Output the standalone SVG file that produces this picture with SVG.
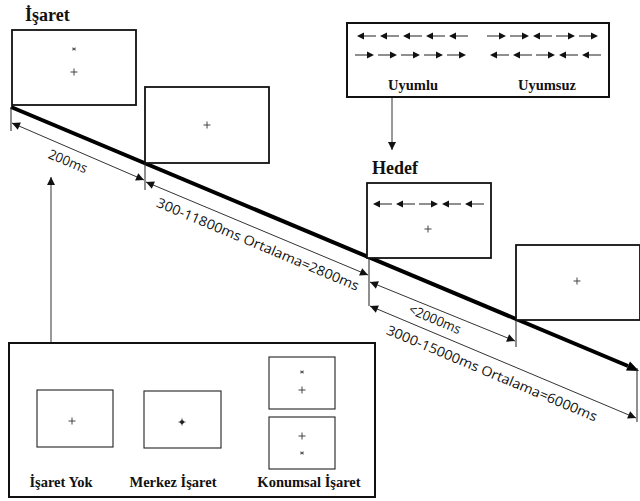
<svg xmlns="http://www.w3.org/2000/svg" xmlns:xlink="http://www.w3.org/1999/xlink" width="640" height="501" viewBox="0 0 640 501">
<style>
.scr{fill:#fff;stroke:#111;stroke-width:1.8}
.box{fill:#fff;stroke:#111;stroke-width:2}
.sm{fill:#fff;stroke:#222;stroke-width:1.1}
.tt{font-family:"Liberation Serif",serif;font-weight:bold;fill:#111}
.dl{font-family:"Open Sans","Liberation Sans",sans-serif;font-size:13.5px;fill:#111}
.pl{stroke:#444;stroke-width:1;fill:none}
.st{stroke:#555;stroke-width:1;fill:none}
.thin{stroke:#333;stroke-width:1;fill:none}
.tick{stroke:#333;stroke-width:1.1}
</style>
<defs>
<marker id="ah" viewBox="0 0 10 10" refX="10" refY="5" markerWidth="10" markerHeight="8" markerUnits="userSpaceOnUse" orient="auto-start-reverse">
<path d="M0,0 L10,5 L0,10 z" fill="#111"/>
</marker>
<g id="la">
<line x1="5" y1="0" x2="19" y2="0" stroke="#333" stroke-width="1.1"/>
<path d="M0,0 L7,-3.5 L7,3.5 z" fill="#111"/>
</g>
<g id="ra">
<line x1="0" y1="0" x2="14" y2="0" stroke="#333" stroke-width="1.1"/>
<path d="M19,0 L12,-3.5 L12,3.5 z" fill="#111"/>
</g>
<path id="plus" d="M-3.5,0 H3.5 M0,-3.5 V3.5"/>
<path id="star" d="M-2,0 H2 M-1.2,-1.5 L1.2,1.5 M1.2,-1.5 L-1.2,1.5"/>
</defs>

<g id="connectors">
<line x1="11" y1="107" x2="628" y2="366" stroke="#000" stroke-width="4"/>
<path d="M639,371 L626,370.5 L630,361.5 z" fill="#000"/>
<line class="tick" x1="11" y1="107" x2="11" y2="131"/>
<line class="tick" x1="145" y1="163" x2="145" y2="190"/>
<line class="tick" x1="369" y1="258" x2="369" y2="306"/>
<line class="tick" x1="516" y1="320" x2="516" y2="347"/>
<line class="tick" x1="637" y1="368" x2="637" y2="422"/>
<line class="thin" x1="12" y1="123" x2="144" y2="180" marker-start="url(#ah)" marker-end="url(#ah)"/>
<line class="thin" x1="146" y1="182" x2="368" y2="275" marker-start="url(#ah)" marker-end="url(#ah)"/>
<line class="thin" x1="370" y1="282" x2="515" y2="341" marker-start="url(#ah)" marker-end="url(#ah)"/>
<line class="thin" x1="370" y1="306" x2="636" y2="418" marker-start="url(#ah)" marker-end="url(#ah)"/>
<line class="thin" x1="392" y1="97" x2="392" y2="150" marker-end="url(#ah)"/>
<line class="thin" x1="51" y1="343" x2="51" y2="177" marker-end="url(#ah)"/>
</g>

<g id="labels">
<text class="dl" transform="translate(68,161) rotate(22.8)" text-anchor="middle" dominant-baseline="central" textLength="41" lengthAdjust="spacingAndGlyphs">200ms</text>
<text class="dl" transform="translate(258,244) rotate(22.8)" text-anchor="middle" dominant-baseline="central" textLength="218" lengthAdjust="spacingAndGlyphs">300-11800ms Ortalama=2800ms</text>
<text class="dl" transform="translate(435,319) rotate(22.8)" text-anchor="middle" dominant-baseline="central" textLength="55" lengthAdjust="spacingAndGlyphs">&lt;2000ms</text>
<text class="dl" transform="translate(492,373) rotate(22.8)" text-anchor="middle" dominant-baseline="central" textLength="227" lengthAdjust="spacingAndGlyphs">3000-15000ms Ortalama=6000ms</text>
</g>

<g id="isaret">
<text class="tt" x="25" y="21" font-size="18">İşaret</text>
<rect class="scr" x="12" y="30" width="124" height="75"/>
<use xlink:href="#star" class="st" x="74" y="49"/>
<use xlink:href="#plus" class="pl" x="74" y="72"/>
</g>

<g id="fixation1">
<rect class="scr" x="145" y="87" width="124" height="76"/>
<use xlink:href="#plus" class="pl" x="207" y="125"/>
</g>

<g id="flankers">
<rect class="box" x="347" y="23" width="262" height="74"/>
<use xlink:href="#la" x="357" y="36"/><use xlink:href="#la" x="380" y="36"/><use xlink:href="#la" x="403" y="36"/><use xlink:href="#la" x="426" y="36"/><use xlink:href="#la" x="449" y="36"/>
<use xlink:href="#ra" x="355" y="55"/><use xlink:href="#ra" x="378" y="55"/><use xlink:href="#ra" x="401" y="55"/><use xlink:href="#ra" x="424" y="55"/><use xlink:href="#ra" x="447" y="55"/>
<use xlink:href="#ra" x="487" y="36"/><use xlink:href="#ra" x="510" y="36"/><use xlink:href="#la" x="533" y="36"/><use xlink:href="#ra" x="556" y="36"/><use xlink:href="#ra" x="579" y="36"/>
<use xlink:href="#la" x="490" y="55"/><use xlink:href="#la" x="513" y="55"/><use xlink:href="#ra" x="536" y="55"/><use xlink:href="#la" x="559" y="55"/><use xlink:href="#la" x="582" y="55"/>
<text class="tt" x="413" y="90" font-size="14.5" text-anchor="middle">Uyumlu</text>
<text class="tt" x="547" y="90" font-size="14.5" text-anchor="middle">Uyumsuz</text>
</g>

<g id="hedef">
<text class="tt" x="372" y="174" font-size="18">Hedef</text>
<rect class="scr" x="367" y="183" width="124" height="75"/>
<use xlink:href="#la" x="373" y="204"/><use xlink:href="#la" x="396" y="204"/><use xlink:href="#ra" x="419" y="204"/><use xlink:href="#la" x="442" y="204"/><use xlink:href="#la" x="465" y="204"/>
<use xlink:href="#plus" class="pl" x="428" y="229"/>
</g>

<g id="fixation2">
<rect class="scr" x="516" y="245" width="124" height="75"/>
<use xlink:href="#plus" class="pl" x="577" y="281"/>
</g>

<g id="cues">
<rect class="box" x="9" y="343" width="366" height="154"/>
<rect class="sm" x="37" y="390" width="76" height="57"/>
<use xlink:href="#plus" class="pl" x="72" y="421"/>
<rect class="sm" x="144" y="391" width="77" height="57"/>
<use xlink:href="#plus" class="pl" x="182" y="422"/>
<use xlink:href="#star" class="st" x="182" y="422" style="stroke:#222;stroke-width:1.4"/>
<rect class="sm" x="269" y="357" width="66" height="52"/>
<use xlink:href="#star" class="st" x="302" y="372"/>
<use xlink:href="#plus" class="pl" x="302" y="390"/>
<rect class="sm" x="269" y="417" width="66" height="52"/>
<use xlink:href="#plus" class="pl" x="302" y="436"/>
<use xlink:href="#star" class="st" x="302" y="453"/>
<text class="tt" x="61" y="487" font-size="14.5" text-anchor="middle">İşaret Yok</text>
<text class="tt" x="173" y="487" font-size="14.5" text-anchor="middle">Merkez İşaret</text>
<text class="tt" x="309" y="487" font-size="14.5" text-anchor="middle">Konumsal İşaret</text>
</g>
</svg>
